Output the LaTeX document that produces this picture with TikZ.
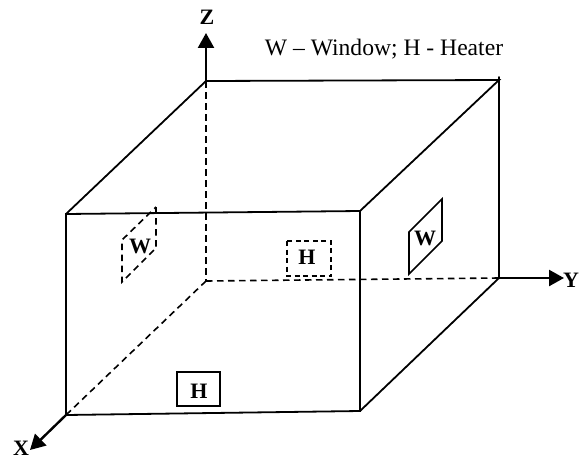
\documentclass[tikz,border=0pt]{standalone}
\usepackage{fontspec}
\setmainfont{Liberation Serif}
\usetikzlibrary{arrows.meta}
\tikzset{
  edge/.style={black,line width=1.8pt,line cap=round,line join=miter},
  hidden/.style={black,line width=1.6pt,dash pattern=on 6.5pt off 4.5pt},
  axis/.style={black,line width=2.4pt,-{Triangle[length=15pt,width=16pt]}},
  lab/.style={font=\bfseries\fontsize{22}{22}\selectfont,inner sep=0pt},
  note/.style={font=\fontsize{23.6}{24}\selectfont,inner sep=0pt}
}
\begin{document}
\begin{tikzpicture}[x=1pt,y=-1pt]
\useasboundingbox (0,0) rectangle (580,460);
\fill[white] (0,0) rectangle (580,460);
% box corners
\coordinate (ftl) at (66,214);
\coordinate (ftr) at (360,211);
\coordinate (fbl) at (66,415);
\coordinate (fbr) at (360,411);
\coordinate (btl) at (206,81);
\coordinate (btr) at (499,80);
\coordinate (bbl) at (206,281);
\coordinate (bbr) at (499,278);
\coordinate (btrtip) at (499,77);
\coordinate (xend) at (30,450);
\coordinate (yend) at (564,278);
\coordinate (zend) at (206,33);
% hidden edges
\draw[hidden] (btl) -- (bbl);
\draw[hidden] (bbl) -- (bbr);
\draw[hidden] (bbl) -- (fbl);
% visible edges
\draw[edge] (ftl) -- (ftr) -- (fbr) -- (fbl) -- cycle;
\draw[edge] (ftl) -- (btl) -- (btr) -- (ftr);
\draw[edge] (btr) -- (bbr) -- (fbr);
\draw[edge] (btrtip) -- (btr);
% axes
\draw[axis] (btl) -- (zend);
\draw[axis] (bbr) -- (yend);
\draw[axis] (fbl) -- (xend);
\node[lab] (zl) at (207,17.5) {Z};
\node[lab] (yl) at (571,280) {Y};
\node[lab] (xl) at (21,448.5) {X};
% hidden window
\draw[hidden] (156,207) -- (156,248) -- (122,282) -- (122,240) -- cycle;
\node[lab] (w1) at (140,246) {W};
% visible window
\draw[edge,line width=1.6pt] (442,199) -- (442,241) -- (409,274) -- (409,232) -- cycle;
\node[lab] (w2) at (425,238) {W};
% hidden heater
\draw[hidden,dash pattern=on 5pt off 3.5pt] (287,241) rectangle (331,276);
\node[lab] (h1) at (307,257) {H};
% visible heater
\draw[edge,line width=1.6pt] (177,372) rectangle (220,406);
\node[lab] (h2) at (199,391) {H};
\node[note] (n) at (384,49.5) {W – Window; H - Heater};
\end{tikzpicture}
\end{document}
